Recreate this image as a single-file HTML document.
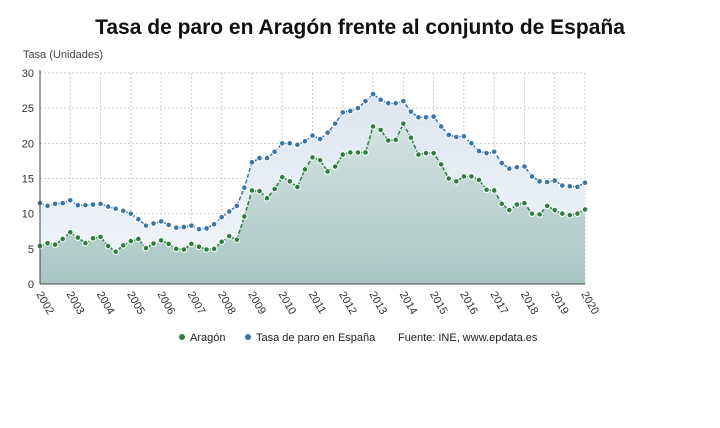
<!DOCTYPE html>
<html><head><meta charset="utf-8"><style>
body{margin:0;background:#fff;font-family:"Liberation Sans",sans-serif;}
</style></head><body>
<svg width="720" height="423" xmlns="http://www.w3.org/2000/svg">
<defs>
<linearGradient id="gb" x1="0" y1="0" x2="0" y2="1"><stop offset="0" stop-color="#dbe6f1"/><stop offset="1" stop-color="#f3f6f9"/></linearGradient>
<linearGradient id="gg" x1="0" y1="0" x2="0" y2="1"><stop offset="0" stop-color="#d3e3e1"/><stop offset="1" stop-color="#a9c6c3"/></linearGradient>
</defs>
<text x="360" y="34" text-anchor="middle" font-size="21" font-weight="bold" fill="#111">Tasa de paro en Aragón frente al conjunto de España</text>
<text x="23" y="58" font-size="11" fill="#444">Tasa (Unidades)</text>
<g id="grid"></g><g id="areas"></g><g id="lines"></g><g id="axes"></g>
<g font-size="11" fill="#222">
<circle cx="182" cy="337" r="3" fill="#2e7d3e"/><text x="190" y="341">Aragón</text>
<circle cx="248" cy="337" r="3" fill="#3a75a8"/><text x="256" y="341">Tasa de paro en España</text>
<text x="398" y="341">Fuente: INE, www.epdata.es</text>
</g>
</svg>
<script>
const years=[2002,2003,2004,2005,2006,2007,2008,2009,2010,2011,2012,2013,2014,2015,2016,2017,2018,2019,2020];
const yTicks=[0,5,10,15,20,25,30];
const espana=[11.5,11.1,11.4,11.5,11.9,11.2,11.2,11.3,11.4,11.0,10.7,10.4,10.0,9.2,8.3,8.6,8.9,8.4,8.0,8.1,8.3,7.8,7.9,8.5,9.5,10.3,11.1,13.7,
17.3,17.9,17.9,18.8,20.0,20.0,19.8,20.3,21.1,20.6,21.5,22.8,24.4,24.6,25.0,26.0,27.0,26.2,25.7,25.7,26.0,24.5,23.7,23.7,23.8,22.4,21.2,20.9,21.0,20.0,18.9,18.6,18.8,17.2,16.4,16.6,16.7,15.3,14.6,14.5,14.7,14.0,13.9,13.8,14.4];
const aragon=[5.4,5.8,5.6,6.4,7.35,6.6,5.8,6.5,6.7,5.4,4.6,5.5,6.1,6.4,5.1,5.75,6.2,5.7,5.0,4.9,5.7,5.3,4.9,5.0,6.0,6.8,6.3,9.6,
13.3,13.2,12.2,13.5,15.2,14.6,13.8,16.3,18.0,17.6,16.0,16.7,18.4,18.7,18.7,18.7,22.4,21.9,20.4,20.5,22.8,20.8,18.4,18.6,18.6,17.0,15.0,14.6,15.3,15.3,14.8,13.4,13.3,11.4,10.5,11.3,11.5,10.0,9.9,11.1,10.5,10.0,9.8,10.0,10.6];
const X0=40,X1=585,Y0=284,Y1=73;
const x=i=>X0+(X1-X0)*i/(espana.length-1);
const xy=yr=>X0+(X1-X0)*(yr-years[0])/(years[years.length-1]-years[0]);
const y=v=>Y0-(Y0-Y1)*v/30;
const NS="http://www.w3.org/2000/svg";
function mk(tag,attrs,parent){const e=document.createElementNS(NS,tag);for(const k in attrs)e.setAttribute(k,attrs[k]);document.getElementById(parent).appendChild(e);return e;}
yTicks.forEach(t=>{
 const l=mk('line',{x1:X0,x2:X1,y1:y(t),y2:y(t),stroke:'#ccc','stroke-dasharray':'2,2'},'grid');
 
 
 const tx=mk('text',{x:34,y:y(t)+4,'text-anchor':'end','font-size':11,fill:'#333'},'axes');tx.textContent=t;
 
 
});
years.forEach(yr=>{
 const l=mk('line',{x1:xy(yr),x2:xy(yr),y1:Y1,y2:Y0,stroke:'#ccc','stroke-dasharray':'2,2'},'grid');
 
 
 const tx=mk('text',{x:xy(yr)-4,y:Y0+10,'font-size':11,fill:'#333',transform:`rotate(60 ${xy(yr)-4} ${Y0+10})`},'axes');tx.textContent=yr;
 
 
});
function pts(a){return a.map((v,i)=>x(i)+','+y(v)).join(' ');}
const ab=mk('polygon',{points:pts(espana)+` ${X1},${Y0} ${X0},${Y0}`,fill:'url(#gb)'},'areas');


const ag=mk('polygon',{points:pts(aragon)+` ${X1},${Y0} ${X0},${Y0}`,fill:'url(#gg)'},'areas');


mk('line',{x1:X0,x2:X0,y1:Y1-3,y2:Y0,stroke:'#444'},'axes');
mk('line',{x1:X0,x2:X1,y1:Y0,y2:Y0,stroke:'#444'},'axes');
[[espana,'#3a75a8','espana'],[aragon,'#2e7d3e','aragon']].forEach(([a,c,n])=>{
 const pl=mk('polyline',{points:pts(a),fill:'none',stroke:c,'stroke-width':1.5,'stroke-dasharray':'4,2'},'lines');
 
 
 a.forEach((v,i)=>{
  const p=mk('circle',{cx:x(i),cy:y(v),r:2.8,fill:c,stroke:'#fff','stroke-width':1},'lines');
  
  
 });
});
</script>
</body></html>
